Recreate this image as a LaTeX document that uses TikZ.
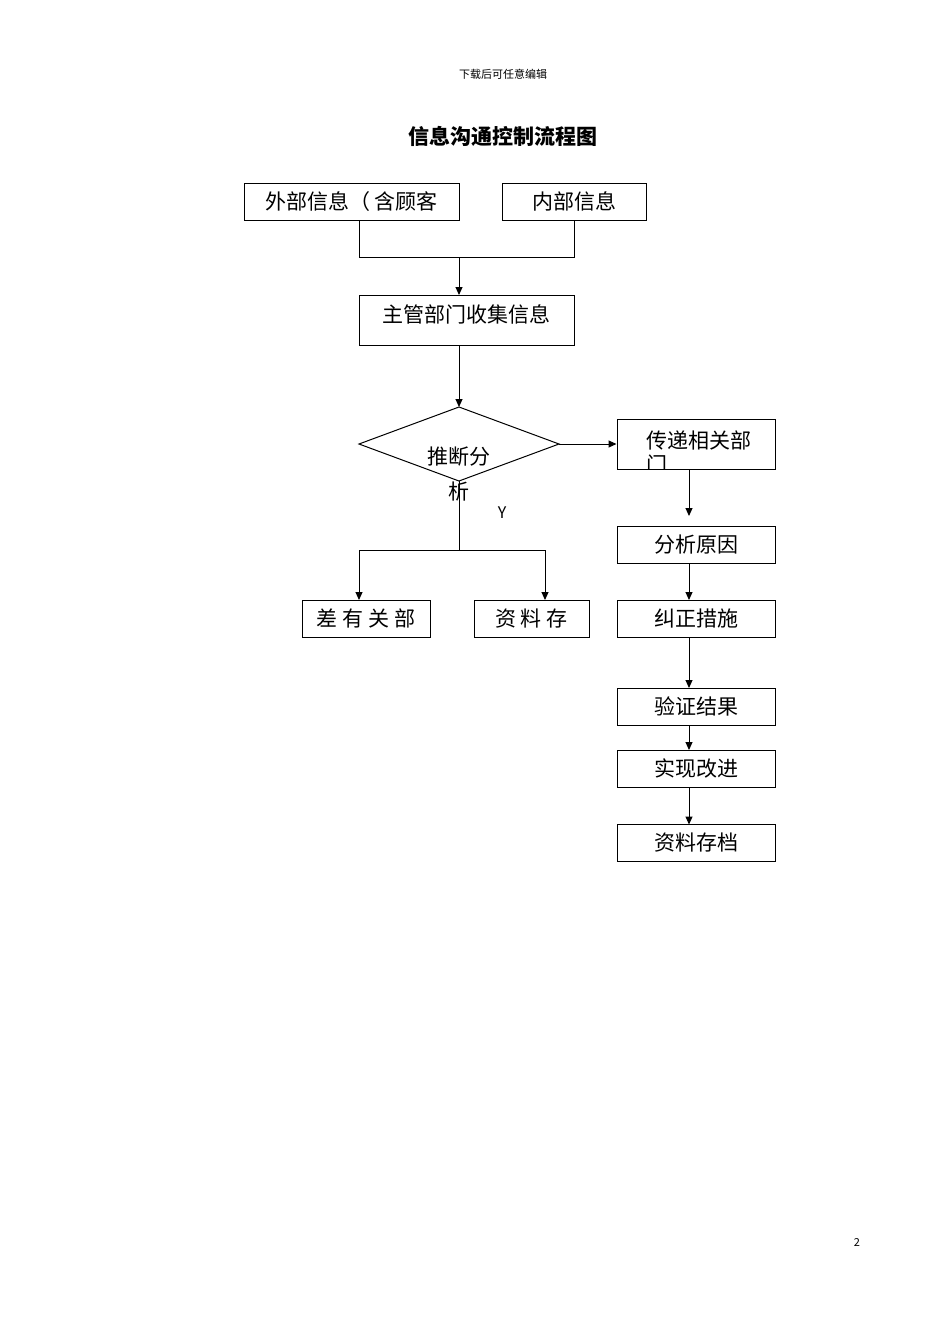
\documentclass[tikz,border=0pt]{standalone}
\usepackage{fontspec}
\setmainfont{Noto Sans CJK SC}
\usetikzlibrary{arrows.meta}
\begin{document}
\begin{tikzpicture}[x=1pt,y=-1pt,
  bx/.style={draw,line width=1pt,minimum height=37pt,inner sep=0pt,font=\fontsize{21}{24}\selectfont},
  ar/.style={-{Triangle[length=8pt,width=7pt]},line width=1pt},
  ln/.style={line width=1pt}]
\useasboundingbox (0,0) rectangle (950,1344);
\fill[white] (0,0) rectangle (950,1344);
\node[font=\fontsize{11}{13}\selectfont] (hdr) at (503,74) {下载后可任意编辑};
\node[font=\fontsize{21}{24}\selectfont\bfseries] (title) at (503,136) {信息沟通控制流程图};
\node[font=\fontsize{11}{13}\selectfont] (pg) at (857,1242) {2};
\node[bx,minimum width=215pt] (ext) at (351.5,201.5) {外部信息（ 含顾客};
\node[bx,minimum width=144pt] (int) at (574,201.5) {内部信息};
\node[bx,minimum width=215pt,minimum height=50pt,anchor=north] (col) at (466.5,295) {};
\node[font=\fontsize{21}{24}\selectfont] (colt) at (466.5,314) {主管部门收集信息};
\coordinate (ja) at (359,257); \coordinate (jb) at (574,257); \coordinate (jm) at (459,257);
\draw[ln] (359,220) -- (ja) -- (jb) -- (574,220);
\draw[ar] (jm) -- (459,295);
\coordinate (dt) at (459,407); \coordinate (dl) at (359,444);
\coordinate (dr) at (559,444); \coordinate (db) at (459,481);
\draw[ln] (dt) -- (dr) -- (db) -- (dl) -- cycle;
\draw[ar] (459,345) -- (dt);
\node[font=\fontsize{21}{24}\selectfont] (dtxt) at (459,457) {推断分};
\node[font=\fontsize{21}{24}\selectfont,fill=white,inner sep=0pt] (dtxt2) at (459,492) {析};
\node[bx,minimum width=158pt,minimum height=50pt] (pass) at (696,444) {};
\begin{scope}
\clip (617,419) rectangle (775,469);
\node[font=\fontsize{21}{24}\selectfont,align=left,text width=120pt] (passt) at (706,452) {传递相关部\\门};
\end{scope}
\draw[ar] (dr) -- (pass.west);
\draw[ar] (689,469) -- (689,516);
\node[font=\fontsize{16}{18}\selectfont\rmfamily] (ylab) at (502,513) {Y};
\coordinate (jc) at (459,550); \coordinate (jl) at (359,550); \coordinate (jr) at (545,550);
\draw[ln] (db) -- (jc);
\draw[ln] (jl) -- (jr);
\node[bx,minimum width=128pt] (b1) at (366,618.5) {差 有 关 部};
\node[bx,minimum width=115pt] (b2) at (531.5,618.5) {资 料 存};
\draw[ar] (jl) -- (359,600);
\draw[ar] (jr) -- (545,600);
\node[bx,minimum width=158pt] (r1) at (696,544.5) {分析原因};
\node[bx,minimum width=158pt] (r2) at (696,618.5) {纠正措施};
\node[bx,minimum width=158pt] (r3) at (696,706.5) {验证结果};
\node[bx,minimum width=158pt] (r4) at (696,768.5) {实现改进};
\node[bx,minimum width=158pt] (r5) at (696,843) {资料存档};
\draw[ar] (689,563) -- (689,600);
\draw[ar] (689,637) -- (689,688);
\draw[ar] (689,725) -- (689,750);
\draw[ar] (689,787) -- (689,824.5);
\end{tikzpicture}
\end{document}
